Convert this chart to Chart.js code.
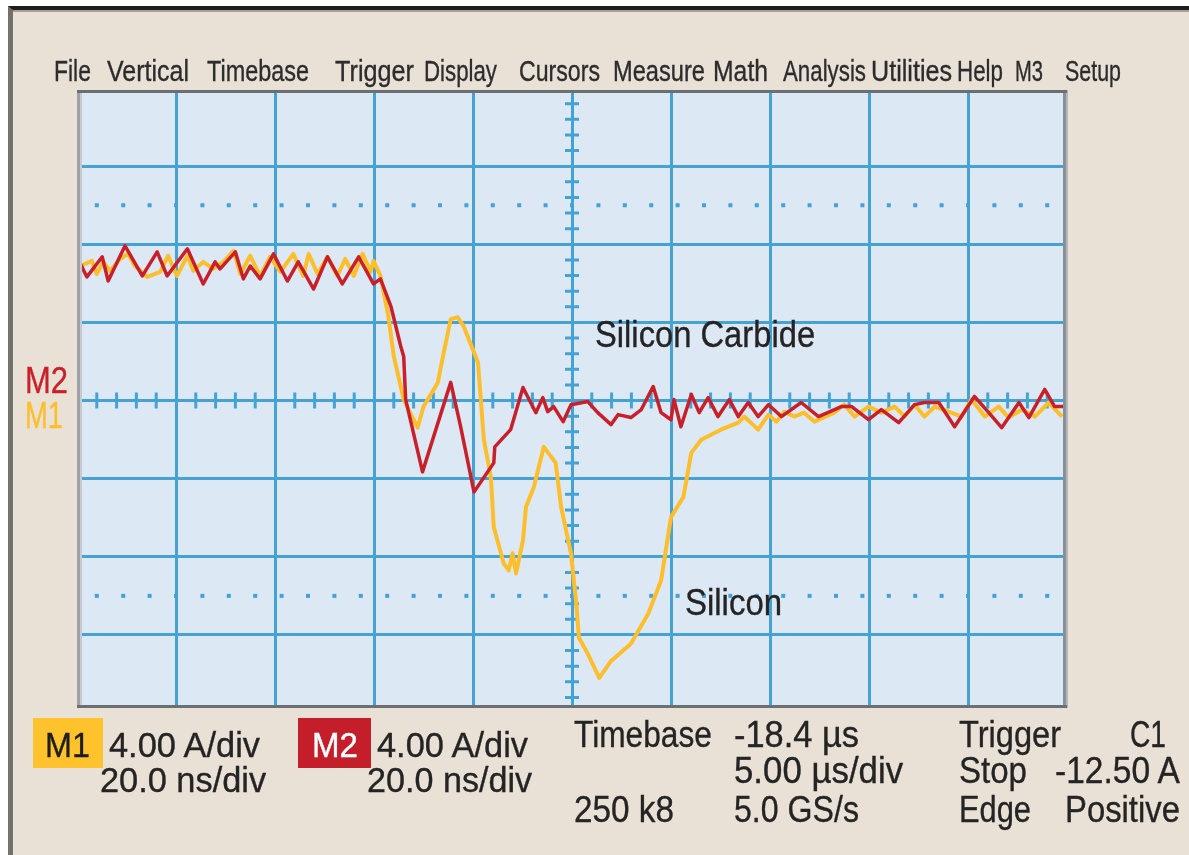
<!DOCTYPE html>
<html>
<head>
<meta charset="utf-8">
<script src="https://cdn.jsdelivr.net/npm/chart.js@4.4.1/dist/chart.umd.min.js"></script>
<style>
  html, body { margin: 0; padding: 0; background: #fff; }
  body { width: 1189px; height: 855px; position: relative; overflow: hidden; font-family: "Liberation Sans", Arial, sans-serif; }
  #panel { position: absolute; left: 8px; top: 6px; right: 0; bottom: 0; background: #eae1d6;
           border-top: 4px solid #1e1e1e; border-left: 5px solid #74706b; box-shadow: inset 0 2px 0 #a89f97; }
  #scope { position: absolute; left: 0; top: 0; }
  .t { position: absolute; white-space: nowrap; line-height: 1; transform-origin: 0 0; color: #242424;
       -webkit-text-stroke: 0.35px currentColor; }
  .box { position: absolute; }
</style>
</head>
<body>
<div id="panel"></div>
<canvas id="scope" width="1189" height="855"></canvas>
<div class="box" style="left:33px;top:718px;width:70px;height:50px;background:#fdc22c"></div>
<div class="box" style="left:298px;top:718px;width:73px;height:50px;background:#c41e2a"></div>
<script>
// time in ns (20 ns/div), current in A (4 A/div)
var sicTime = [0.2, 2.0, 5.1, 6.3, 9.7, 13.2, 16.2, 18.2, 22.3, 25.5, 27.9, 28.9, 32.0, 33.6, 35.0, 37.0,
  39.7, 42.5, 44.7, 47.8, 50.6, 53.6, 56.9, 59.9, 61.3, 63.4, 65.4, 66.0, 66.4, 69.8, 75.5, 77.5, 80.2,
  84.2, 84.4, 87.6, 90.1, 92.7, 94.1, 95.1, 96.3, 98.2, 99.8, 103.2, 105.2, 107.9, 109.3, 111.9, 114.0,
  116.4, 118.0, 120.0, 120.6, 122.0, 124.1, 125.7, 127.5, 129.5, 131.8, 133.6, 135.6, 137.6, 139.7,
  142.3, 146.3, 149.8, 154.4, 156.5, 159.9, 162.5, 166.0, 169.2, 171.2, 174.1, 177.3, 181.3, 184.2,
  186.8, 190.3, 192.3, 195.5, 197.5, 199.6];
var sicCurrent = [7.25, 6.33, 7.36, 6.12, 7.92, 6.38, 7.61, 6.38, 7.77, 5.97, 7.10, 6.74, 7.61, 6.23, 6.89, 6.23,
  7.51, 6.12, 7.10, 5.71, 7.36, 5.97, 7.36, 5.97, 6.23, 4.84, 2.78, 2.26, 0.05, -3.65, 0.93, -1.34, -4.68,
  -3.19, -2.37, -1.49, 0.67, -0.62, 0.15, -0.57, -0.31, -1.08, -0.21, -0.05, -0.62, -1.23, -0.72, -0.87, -0.46,
  0.72, -0.62, -0.98, 0.05, -1.34, 0.31, -0.62, 0.15, -0.82, 0.05, -0.82, -0.10, -0.82, -0.21,
  -0.82, -0.10, -0.82, -0.31, -0.31, -0.98, -0.46, -1.13, -0.21, -0.10, -0.10, -1.34, 0.21, -0.62,
  -1.39, -0.10, -0.87, 0.57, -0.31, -0.31];

var siTime = [0.2, 3.0, 4.0, 5.3, 6.7, 8.7, 10.3, 11.7, 14.2, 16.8, 18.4, 20.2, 22.3, 23.5, 25.5, 27.5, 29.6,
  31.6, 33.0, 35.0, 37.0, 39.0, 41.1, 43.7, 45.7, 46.8, 48.6, 50.6, 52.6, 54.2, 55.9, 57.7, 59.3, 59.9,
  61.3, 62.9, 64.0, 65.4, 66.0, 68.8, 70.0, 72.9, 74.1, 75.5, 76.9, 78.1, 81.0, 82.2, 83.6, 84.2, 86.2,
  87.2, 88.0, 88.7, 90.1, 90.7, 92.3, 94.3, 96.7, 97.8, 99.8, 100.8, 101.4, 103.2, 105.5, 107.9, 111.9,
  115.4, 118.0, 120.0, 122.5, 124.1, 126.1, 130.1, 133.6, 134.8, 137.6, 139.7, 141.3, 142.9, 144.9,
  146.9, 149.0, 153.0, 155.0, 157.1, 159.9, 162.5, 165.2, 167.2, 169.2, 171.2, 173.3, 176.1, 178.7,
  180.7, 183.4, 186.2, 188.2, 190.9, 193.5, 196.3, 199.0];
var siCurrent = [6.84, 7.15, 6.48, 7.10, 6.64, 7.25, 7.51, 6.89, 6.33, 6.59, 7.41, 6.38, 7.41, 6.64, 7.10, 6.74, 7.10,
  7.67, 6.48, 7.41, 6.38, 7.36, 6.59, 7.51, 6.38, 7.51, 6.48, 7.36, 6.38, 7.25, 6.38, 7.51, 6.59, 7.15,
  6.38, 4.32, 2.26, 0.72, 0.05, -1.39, -0.31, 0.93, 2.47, 4.17, 4.27, 3.81, 1.96, -2.01, -3.91, -6.48, -8.33,
  -8.70, -7.82, -8.85, -7.15, -5.45, -4.42, -2.37, -3.19, -5.45, -7.82, -10.24, -12.14, -12.97, -14.20, -13.33, -12.45,
  -10.91, -9.21, -5.97, -4.94, -2.68, -2.01, -1.49, -1.13, -0.82, -1.49, -0.72, -1.08, -0.57, -0.82,
  -0.62, -1.08, -0.62, -0.21, -0.82, -0.31, -0.62, -0.31, -0.82, -0.21, -0.82, -0.31, -0.57, -0.82,
  0.05, -0.82, -0.31, -0.87, -0.46, -0.82, -0.10, -0.82];

var timeMin = 0, timeMax = 200, timeDiv = 20;
var ampMin = -15.74, ampMax = 15.9, ampDiv = 4;
var cursorLevels = [10, -10];

var menuItems = ['File', 'Vertical', 'Timebase', 'Trigger', 'Display', 'Cursors', 'Measure', 'Math',
  'Analysis', 'Utilities', 'Help', 'M3', 'Setup'];
var menuSpan = [[54, 91], [107, 189], [207, 309], [335, 414], [424, 497], [519, 600], [613, 705], [713, 768],
  [783, 866], [871, 952], [957, 1003], [1015, 1043], [1065, 1121]];

var GRID = '#44a2d4';
var RED = '#c8202a';
var YELLOW = '#fdbe2c';

function pts(xs, ys) {
  return xs.map(function (t, i) { return {x: t, y: ys[i]}; });
}

var scopeDeco = {
  id: 'scopeDeco',
  beforeDraw: function (chart) {
    var a = chart.chartArea, ctx = chart.ctx;
    ctx.save();
    ctx.fillStyle = '#dce8f4';
    ctx.fillRect(a.left, a.top, a.right - a.left, a.bottom - a.top);
    ctx.restore();
  },
  beforeDatasetsDraw: function (chart) {
    var ctx = chart.ctx, x = chart.scales.x, y = chart.scales.y;
    ctx.save();
    ctx.fillStyle = GRID;
    // dotted cursor lines
    cursorLevels.forEach(function (v) {
      var py = y.getPixelForValue(v);
      for (var k = 0; k <= 36; k++) {
        var px = x.getPixelForValue(4 + k * 16 / 3);
        ctx.fillRect(px - 2, py - 2, 4, 4);
      }
    });
    // minor ticks on the centre cross
    ctx.strokeStyle = GRID;
    ctx.lineWidth = 3;
    var y0 = y.getPixelForValue(0), x0 = x.getPixelForValue(100);
    ctx.beginPath();
    for (var i = 1; i < 50; i++) {
      if (i % 5 === 0) continue;
      var px = x.getPixelForValue(i * 4);
      ctx.moveTo(px, y0 - 8); ctx.lineTo(px, y0 + 8);
    }
    for (var j = -19; j <= 19; j++) {
      if (j % 5 === 0) continue;
      var py = y.getPixelForValue(j * 0.8);
      ctx.moveTo(x0 - 7, py); ctx.lineTo(x0 + 7, py);
    }
    ctx.stroke();
    ctx.restore();
  },
  afterDatasetsDraw: function (chart) {
    var a = chart.chartArea, ctx = chart.ctx;
    ctx.save();
    ctx.fillStyle = '#9ea2a6';
    ctx.fillRect(a.left, a.top, 3, a.bottom - a.top);
    ctx.fillStyle = '#c4cad0';
    ctx.fillRect(a.left + 3, a.top, 2, a.bottom - a.top);
    ctx.fillStyle = '#8a9097';
    ctx.fillRect(a.right - 4, a.top, 3, a.bottom - a.top);
    ctx.fillStyle = '#b4b8bc';
    ctx.fillRect(a.right - 1, a.top, 2, a.bottom - a.top);
    ctx.fillStyle = '#6b6f73';
    ctx.fillRect(a.left, a.top, a.right - a.left, 3);
    ctx.fillRect(a.left, a.bottom - 3, a.right - a.left, 3);
    ctx.restore();
  }
};

function gridColor(c) {
  var s = c.scale;
  if (c.tick && (c.tick.value <= s.min + 0.01 || c.tick.value >= s.max - 0.01)) return 'rgba(0,0,0,0)';
  return GRID;
}

var chart = new Chart(document.getElementById('scope').getContext('2d'), {
  type: 'line',
  data: {
    datasets: [{
      label: 'M2 Silicon Carbide',
      data: pts(sicTime, sicCurrent),
      borderColor: RED,
      borderWidth: 3.5,
      borderJoinStyle: 'round',
      pointRadius: 0,
      tension: 0
    }, {
      label: 'M1 Silicon',
      data: pts(siTime, siCurrent),
      borderColor: YELLOW,
      borderWidth: 4,
      borderJoinStyle: 'round',
      pointRadius: 0,
      tension: 0
    }]
  },
  options: {
    responsive: false,
    animation: false,
    devicePixelRatio: 1,
    layout: { padding: { left: 77, top: 90, right: 122, bottom: 147 } },
    plugins: { legend: { display: false }, tooltip: { enabled: false } },
    scales: {
      x: {
        type: 'linear', min: timeMin, max: timeMax,
        ticks: { display: false, stepSize: timeDiv },
        grid: { color: gridColor, lineWidth: 3, drawTicks: false },
        border: { display: false }
      },
      y: {
        type: 'linear', min: ampMin, max: ampMax,
        ticks: { display: false, stepSize: ampDiv, includeBounds: false },
        grid: { color: gridColor, lineWidth: 3, drawTicks: false },
        border: { display: false }
      }
    }
  },
  plugins: [scopeDeco]
});

// text readouts, squeezed to the narrow scope font width
function place(str, left, right, baseline, size, color) {
  var el = document.createElement('div');
  el.className = 't';
  el.textContent = str;
  el.style.fontSize = size + 'px';
  el.style.left = left + 'px';
  el.style.top = (baseline - 0.8465 * size) + 'px';
  if (color) el.style.color = color;
  document.body.appendChild(el);
  var w = el.getBoundingClientRect().width;
  el.style.transform = 'scaleX(' + ((right - left) / w).toFixed(3) + ')';
}

menuItems.forEach(function (m, i) { place(m, menuSpan[i][0], menuSpan[i][1], 81, 30, '#2c2c2c'); });

place('M2', 25, 68, 393, 36, RED);
place('M1', 25, 63, 428, 36, YELLOW);

place('Silicon Carbide', 595, 815, 347, 36);
place('Silicon', 685, 782, 615, 36);

place('M1', 45, 90, 757, 35, '#1e1e1e');
place('4.00 A/div', 109, 260, 757, 35);
place('20.0 ns/div', 100, 266, 792, 35);
place('M2', 312, 358, 757, 35, '#ffffff');
place('4.00 A/div', 377, 528, 757, 35);
place('20.0 ns/div', 367, 532, 792, 35);

place('Timebase', 574, 712, 747, 36);
place('-18.4 \u00b5s', 734, 859, 747, 36);
place('5.00 \u00b5s/div', 734, 903, 783, 36);
place('250 k8', 574, 674, 822, 36);
place('5.0 GS/s', 734, 859, 822, 36);
place('Trigger', 959, 1061, 747, 36);
place('C1', 1130, 1166, 747, 36);
place('Stop', 959, 1027, 783, 36);
place('-12.50 A', 1055, 1180, 783, 36);
place('Edge', 959, 1031, 822, 36);
place('Positive', 1065, 1180, 822, 36);
</script>
</body>
</html>
